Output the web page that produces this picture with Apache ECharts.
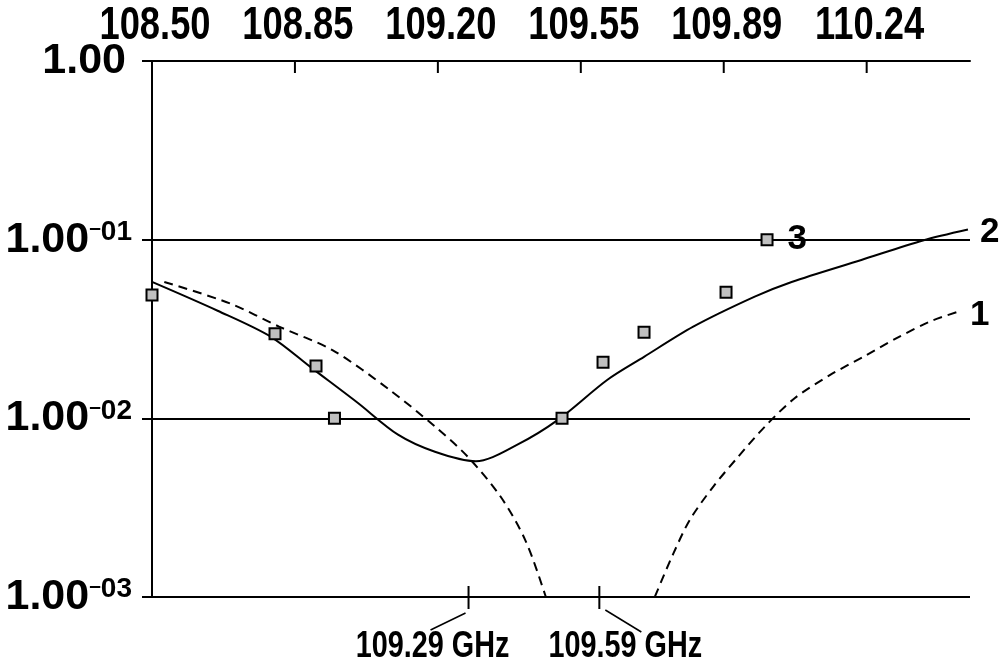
<!DOCTYPE html>
<html>
<head>
<meta charset="utf-8">
<script src="https://cdn.jsdelivr.net/npm/echarts@6/dist/echarts.min.js"></script>
<style>
  html, body { margin: 0; background: #fff; }
  #main { width: 1005px; height: 667px; }
</style>
</head>
<body>
<div id="main"></div>
<script>
// frequency axis (GHz), ticks on top
var xMin = 108.5
var xMax = 110.495
var xStep = 0.3486
var xTickLabels = ['108.50', '108.85', '109.20', '109.55', '109.89', '110.24']

// log axis ticks
var yTickExp = [-3, -2, -1, 0]
var yTickMain = ['1.00', '1.00', '1.00', '1.00']
var yTickSup = ['03', '02', '01', '']

// curve 2 (solid)
var solidFreq = [108.50, 108.66, 108.79, 108.89, 109.00, 109.10, 109.19, 109.29, 109.39, 109.49, 109.61, 109.70, 109.82, 109.97, 110.06, 110.23, 110.38, 110.49]
var solidVal = [0.058, 0.040, 0.0286, 0.0191, 0.0123, 0.0081, 0.0065, 0.00575, 0.0071, 0.0098, 0.0164, 0.0221, 0.0326, 0.048, 0.058, 0.077, 0.099, 0.114]

// curve 1 (dashed), two branches around the null
var dashLeftFreq = [108.53, 108.69, 108.81, 108.94, 109.08, 109.19, 109.27, 109.35, 109.41, 109.46, 109.48]
var dashLeftVal = [0.058, 0.044, 0.0326, 0.0241, 0.0144, 0.0090, 0.0061, 0.00365, 0.00209, 0.00101, 0.0007]
var dashRightFreq = [109.70, 109.727, 109.772, 109.812, 109.869, 109.930, 109.995, 110.068, 110.154, 110.235, 110.316, 110.397, 110.466]
var dashRightVal = [0.0007, 0.00101, 0.00176, 0.00271, 0.00415, 0.00611, 0.0090, 0.0130, 0.0175, 0.0221, 0.0281, 0.0348, 0.0395]

// curve 3 (measured points)
var markFreq = [108.50, 108.80, 108.90, 108.945, 109.50, 109.60, 109.70, 109.90, 110.00]
var markVal = [0.049, 0.0297, 0.0196, 0.01, 0.01, 0.0206, 0.0303, 0.0507, 0.100]

// annotated frequencies under the axis
var annoFreq = [109.272, 109.591]
var annoText = ['109.29 GHz', '109.59 GHz']

var sans = "'Liberation Sans', Arial, sans-serif"

function pts (fs, vs) {
  var out = []
  for (var i = 0; i < fs.length; i++) {
    out.push([+(fs[i] - xMin).toFixed(4), vs[i]])
  }
  return out
}

var markData = pts(markFreq, markVal).map(function (p, i) {
  if (i === markFreq.length - 1) {
    return { value: p, label: { show: true, position: 'right', distance: 14, formatter: '3' } }
  }
  return p
})

var curveLabel = { color: '#000', fontFamily: sans, fontWeight: 'bold', fontSize: 35 }

var chart = echarts.init(document.getElementById('main'))
chart.setOption({
  animation: false,
  backgroundColor: '#fff',
  grid: { left: 152, right: 35, top: 61, bottom: 70, containLabel: false, outerBoundsMode: 'none' },
  xAxis: {
    type: 'value',
    position: 'top',
    min: 0,
    max: +(xMax - xMin).toFixed(4),
    interval: xStep,
    axisLine: { show: true, lineStyle: { color: '#000', width: 2 } },
    axisTick: { show: false },
    splitLine: { show: false },
    axisLabel: { show: false }
  },
  yAxis: {
    type: 'log',
    logBase: 10,
    min: 0.001,
    max: 1,
    axisLine: { show: true, lineStyle: { color: '#000', width: 2 } },
    axisTick: { show: true, length: 10, lineStyle: { color: '#000', width: 2 } },
    splitLine: { show: true, lineStyle: { color: '#000', width: 2 } },
    axisLabel: {
      margin: 20,
      showMinLabel: true,
      showMaxLabel: true,
      formatter: function (v) {
        var i = yTickExp.indexOf(Math.round(Math.log10(v)))
        if (i < 0) return ''
        if (!yTickSup[i]) return '{t|' + yTickMain[i] + '}'
        return '{m|' + yTickMain[i] + '}{d|–}{s|' + yTickSup[i] + '}'
      },
      rich: {
        t: { color: '#000', fontFamily: sans, fontWeight: 'bold', fontSize: 43, padding: [0, 6, 0, 0] },
        m: { color: '#000', fontFamily: sans, fontWeight: 'bold', fontSize: 43 },
        d: { color: '#000', fontFamily: sans, fontWeight: 'bold', fontSize: 21, lineHeight: 28, verticalAlign: 'top' },
        s: { color: '#000', fontFamily: sans, fontWeight: 'bold', fontSize: 28, lineHeight: 28, verticalAlign: 'top' }
      }
    }
  },
  series: [
    {
      name: '2',
      type: 'line',
      data: pts(solidFreq, solidVal),
      smooth: 0.3,
      symbol: 'none',
      lineStyle: { color: '#000', width: 2 },
      endLabel: Object.assign({ show: true, formatter: '2', distance: 12, offset: [0, 3] }, curveLabel),
      z: 3
    },
    {
      name: '1',
      type: 'line',
      data: pts(dashLeftFreq, dashLeftVal),
      smooth: 0.3,
      symbol: 'none',
      lineStyle: { color: '#000', width: 2, type: [9, 6] },
      z: 2
    },
    {
      name: '1b',
      type: 'line',
      data: pts(dashRightFreq, dashRightVal),
      smooth: 0.3,
      symbol: 'none',
      lineStyle: { color: '#000', width: 2, type: [9, 6] },
      endLabel: Object.assign({ show: true, formatter: '1', distance: 12, offset: [0, 4] }, curveLabel),
      z: 2
    },
    {
      name: '3',
      type: 'scatter',
      data: markData,
      symbol: 'rect',
      symbolSize: 11,
      itemStyle: { color: '#c0c0c0', borderColor: '#000', borderWidth: 2, opacity: 1 },
      label: curveLabel,
      z: 5
    }
  ]
})

var gfx = []

// top ticks (pointing down) and their labels, drawn narrow like the original
xTickLabels.forEach(function (t, k) {
  var p = chart.convertToPixel({ gridIndex: 0 }, [k * xStep, 1])
  if (k > 0) {
    gfx.push({
      type: 'line',
      shape: { x1: p[0], y1: p[1], x2: p[0], y2: p[1] + 12 },
      style: { stroke: '#000', lineWidth: 2 }
    })
  }
  gfx.push({
    type: 'text',
    x: p[0] + 3,
    y: p[1] - 35,
    scaleX: 0.79,
    style: { text: t, fill: '#000', font: 'bold 46px ' + sans, align: 'center', verticalAlign: 'middle' }
  })
})

// ticks and leader lines for the two marked frequencies
annoFreq.forEach(function (f, i) {
  var p = chart.convertToPixel({ gridIndex: 0 }, [f - xMin, 0.001])
  var x = p[0]
  var y = p[1]
  var left = i === 0
  gfx.push({
    type: 'line',
    shape: { x1: x, y1: y - 11, x2: x, y2: y + 12 },
    style: { stroke: '#000', lineWidth: 2 }
  })
  gfx.push({
    type: 'line',
    shape: left
      ? { x1: x - 3, y1: y + 16, x2: x - 38, y2: y + 33 }
      : { x1: x + 6, y1: y + 13, x2: x + 42, y2: y + 35 },
    style: { stroke: '#000', lineWidth: 1.5 }
  })
  gfx.push({
    type: 'text',
    x: left ? x - 36 : x + 26,
    y: y + 50,
    scaleX: 0.8,
    style: { text: annoText[i], fill: '#000', font: 'bold 36px ' + sans, align: 'center', verticalAlign: 'middle' }
  })
})
chart.setOption({ graphic: gfx })
</script>
</body>
</html>
